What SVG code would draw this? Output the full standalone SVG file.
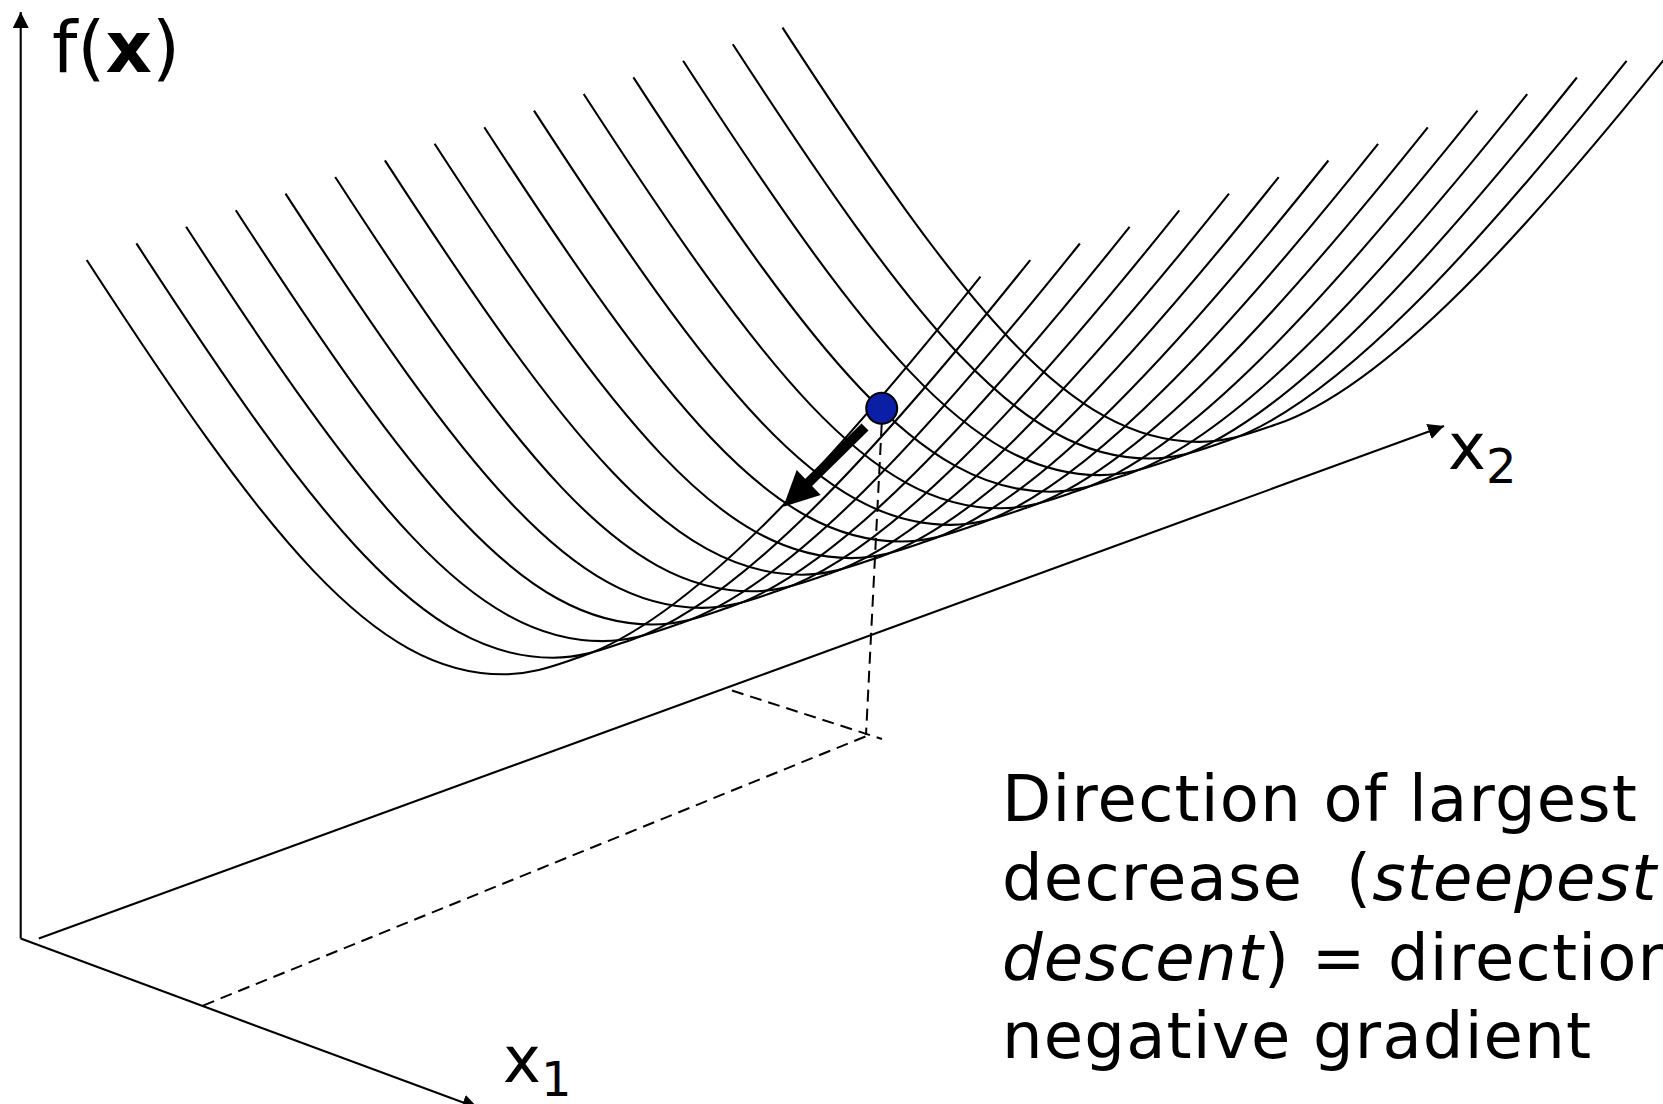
<svg xmlns="http://www.w3.org/2000/svg" xmlns:xlink="http://www.w3.org/1999/xlink" width="1663" height="1104" viewBox="0 0 1663 1104">
<style>
.ln{fill:none;stroke:#000;stroke-width:2.1}
.dash{fill:none;stroke:#000;stroke-width:2;stroke-dasharray:12 7}
.lbl{font-family:"DejaVu Sans","Verdana",sans-serif;fill:#000}
.body{font-family:"DejaVu Sans","Verdana",sans-serif;font-size:64px;letter-spacing:1.2px;fill:#000}
</style>
<defs>
<marker id="ah" viewBox="0 0 16 16" refX="16" refY="8" markerWidth="16" markerHeight="16" markerUnits="userSpaceOnUse" orient="auto">
<path d="M0,0 L16,8 L0,16 z" fill="#000"/>
</marker>
<path id="cA" class="ln" d="M86.7,260 C266.7,537.2 373.3,674.3 503.3,674.3 C533.3,674.3 555,665.35 580,657"/>
<path id="cB" class="ln" d="M580,657 C690,620.3 830.5,464.2 980.5,276.7"/>
</defs>
<rect width="1663" height="1104" fill="#fff"/>
<g id="axes">
<line class="ln" x1="20.7" y1="938.6" x2="20.7" y2="12" marker-end="url(#ah)"/>
<line class="ln" x1="20.7" y1="938.6" x2="478" y2="1108" marker-end="url(#ah)"/>
<line class="ln" x1="38.8" y1="938.6" x2="1444" y2="426" marker-end="url(#ah)"/>
</g>
<g id="surface-x1-curves">
<use xlink:href="#cA"/>
<use xlink:href="#cA" transform="translate(49.7,-16.6)"/>
<use xlink:href="#cA" transform="translate(99.4,-33.2)"/>
<use xlink:href="#cA" transform="translate(149.1,-49.8)"/>
<use xlink:href="#cA" transform="translate(198.8,-66.4)"/>
<use xlink:href="#cA" transform="translate(248.5,-83)"/>
<use xlink:href="#cA" transform="translate(298.2,-99.6)"/>
<use xlink:href="#cA" transform="translate(347.9,-116.2)"/>
<use xlink:href="#cA" transform="translate(397.6,-132.8)"/>
<use xlink:href="#cA" transform="translate(447.3,-149.4)"/>
<use xlink:href="#cA" transform="translate(497,-166)"/>
<use xlink:href="#cA" transform="translate(546.7,-182.6)"/>
<use xlink:href="#cA" transform="translate(596.4,-199.2)"/>
<use xlink:href="#cA" transform="translate(646.1,-215.8)"/>
<use xlink:href="#cA" transform="translate(695.8,-232.4)"/>
</g>
<g id="surface-x2-curves">
<use xlink:href="#cB"/>
<use xlink:href="#cB" transform="translate(49.7,-16.6)"/>
<use xlink:href="#cB" transform="translate(99.4,-33.2)"/>
<use xlink:href="#cB" transform="translate(149.1,-49.8)"/>
<use xlink:href="#cB" transform="translate(198.8,-66.4)"/>
<use xlink:href="#cB" transform="translate(248.5,-83)"/>
<use xlink:href="#cB" transform="translate(298.2,-99.6)"/>
<use xlink:href="#cB" transform="translate(347.9,-116.2)"/>
<use xlink:href="#cB" transform="translate(397.6,-132.8)"/>
<use xlink:href="#cB" transform="translate(447.3,-149.4)"/>
<use xlink:href="#cB" transform="translate(497,-166)"/>
<use xlink:href="#cB" transform="translate(546.7,-182.6)"/>
<use xlink:href="#cB" transform="translate(596.4,-199.2)"/>
<use xlink:href="#cB" transform="translate(646.1,-215.8)"/>
<use xlink:href="#cB" transform="translate(695.8,-232.4)"/>
</g>
<g id="projection">
<line class="dash" x1="203" y1="1005.6" x2="869" y2="735"/>
<line class="dash" x1="732" y1="690.5" x2="882" y2="739"/>
<line class="dash" x1="881.7" y1="424" x2="866" y2="735"/>
</g>
<g id="gradient-arrow">
<line x1="865" y1="427" x2="803" y2="488" stroke="#000" stroke-width="10"/>
<polygon points="783.3,506.7 796.7,470 820.7,495" fill="#000"/>
</g>
<g id="point">
<circle cx="881.7" cy="408.3" r="15.5" fill="#0b1ea6" stroke="#000" stroke-width="2"/>
</g>
<g id="labels">
<text class="lbl" x="52" y="72" font-size="72">f(<tspan font-weight="bold">x</tspan>)</text>
<text class="lbl" x="1448" y="469.3" font-size="64">x<tspan font-size="48" dy="14">2</tspan></text>
<text class="lbl" x="503" y="1081.7" font-size="64">x<tspan font-size="48" dy="14">1</tspan></text>
</g>
<g id="caption">
<text class="body" x="1002" y="820.7" xml:space="preserve">Direction of largest</text>
<text class="body" x="1002" y="900" xml:space="preserve">decrease  (<tspan font-style="italic">steepest</tspan></text>
<text class="body" x="1002" y="980" xml:space="preserve"><tspan font-style="italic">descent</tspan>) = direction</text>
<text class="body" x="1002" y="1058" xml:space="preserve">negative gradient</text>
</g>
</svg>
